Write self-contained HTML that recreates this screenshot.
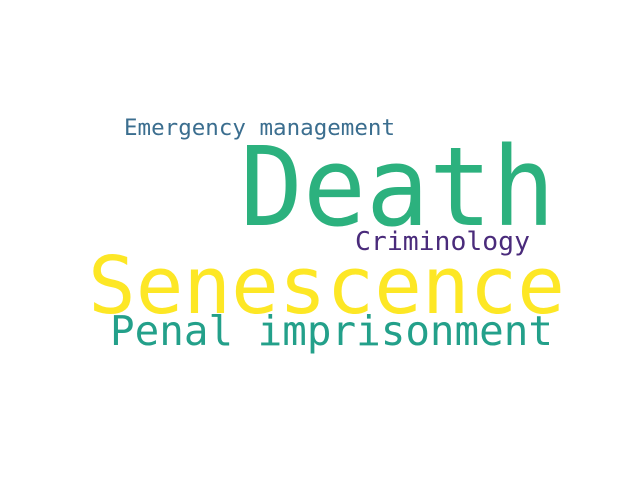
<!DOCTYPE html>
<html><head><meta charset="utf-8"><style>html,body{margin:0;padding:0;background:#fff}</style></head>
<body>
<svg width="640" height="480" viewBox="0 0 640 480" style="font-family:'DejaVu Sans Mono','Liberation Mono',monospace">
<rect width="640" height="480" fill="#fff"/>
<text x="124" y="135" font-size="22" fill="#3b6e8f" textLength="271" lengthAdjust="spacingAndGlyphs">Emergency management</text>
<text x="240" y="225" font-size="110" fill="#2cb17e" textLength="315" lengthAdjust="spacingAndGlyphs">Death</text>
<text x="355" y="250" font-size="26" fill="#4a2b7b" textLength="175" lengthAdjust="spacingAndGlyphs">Criminology</text>
<text x="88" y="313" font-size="79" fill="#fde725" textLength="477" lengthAdjust="spacingAndGlyphs">Senescence</text>
<text x="110" y="345" font-size="41" fill="#23a08a" textLength="443" lengthAdjust="spacingAndGlyphs">Penal imprisonment</text>
</svg>
</body></html>
